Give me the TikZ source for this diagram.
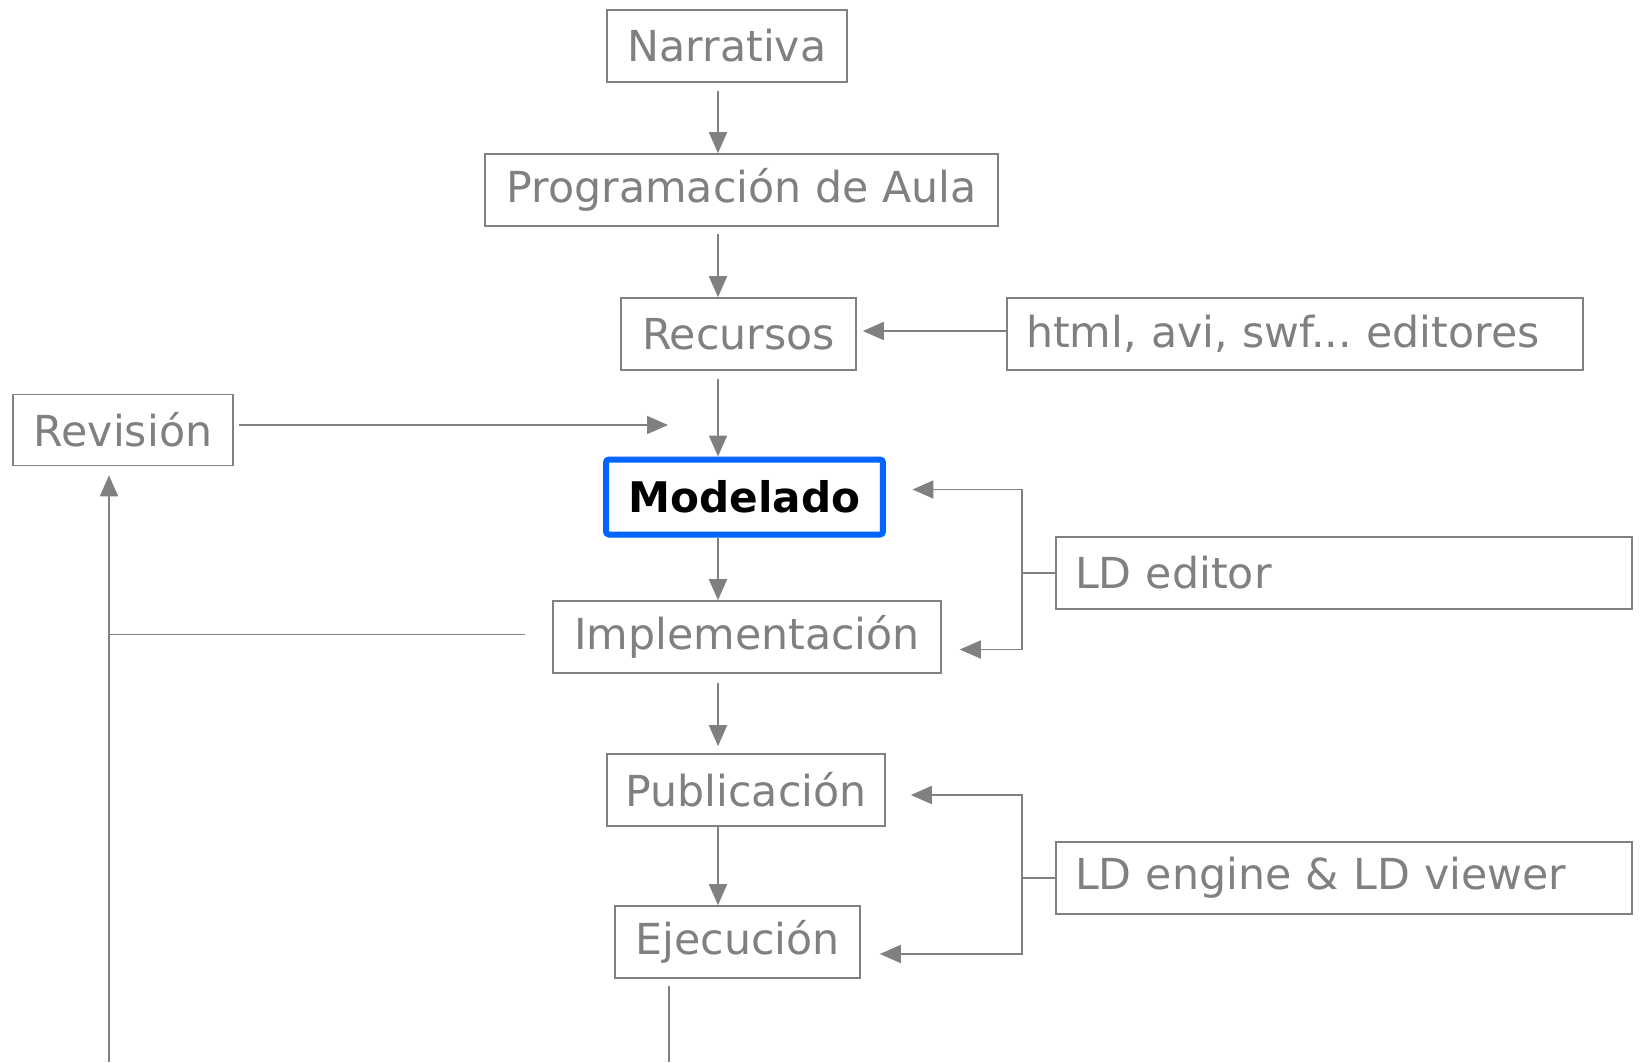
\documentclass[tikz,border=0pt]{standalone}
\usepackage{fontspec}
\setmainfont{DejaVu Sans}
\usetikzlibrary{arrows.meta}
\definecolor{linegray}{RGB}{128,128,128}
\definecolor{modblue}{RGB}{0,102,255}

\begin{document}
\begin{tikzpicture}[x=0.02cm, y=-0.02cm,
  box/.style={draw=linegray, line width=0.95pt, text=linegray, minimum height=1.44cm, inner sep=0pt, font=\fontsize{24.3}{28}\selectfont},
  toolbox/.style={box, minimum width=11.52cm, text width=10.76cm, align=left, inner xsep=0.38cm},
  arr/.style={draw=linegray, line width=1pt, -{Triangle[length=0.42cm,width=0.36cm]}},
  ln/.style={draw=linegray, line width=1pt}]
	\useasboundingbox (0,0) rectangle (1642,1062);

	\node[box, minimum width=4.8cm] (narr) at (727,46) {Narrativa};
	\node[box, minimum width=10.26cm] (prog) at (741.5,190) {Programación de Aula};
	\node[box, minimum width=4.7cm] (rec) at (738.5,334) {Recursos};
	\node[toolbox] (html) at (1295,334) {html, avi, swf...~editores};
	\node[box, minimum width=4.4cm, minimum height=1.42cm] (rev) at (123,430) {Revisión};
	\node[box, draw=modblue, line width=0.12cm, rounded corners=0.06cm, minimum width=5.54cm, minimum height=1.5cm, text=black, font=\fontsize{24}{28}\selectfont\bfseries] (mod) at (744.5,497) {Modelado};
	\node[toolbox] (ldedit) at (1344,573) {LD editor};
	\node[box, minimum width=7.76cm] (impl) at (747,637) {Implementación};
	\node[box, minimum width=5.56cm] (pub) at (746,790) {Publicación};
	\node[toolbox] (ldeng) at (1344,878) {LD engine \& LD viewer};
	\node[box, minimum width=4.9cm] (ejec) at (737.5,942) {Ejecución};

	\coordinate (spine) at (718,0);
	\coordinate (revtip) at (668,425);
	\coordinate (fb) at (109,1062);
	\coordinate (exit) at (669,1062);

	% eje central
	\draw[arr, shorten <=0.16cm] (narr.south -| spine) -- (prog.north -| spine);
	\draw[arr, shorten <=0.14cm] (prog.south -| spine) -- (rec.north -| spine);
	\draw[arr, shorten <=0.16cm] (rec.south -| spine) -- (mod.north -| spine);
	\draw[arr] (mod.south -| spine) -- (impl.north -| spine);
	\draw[arr, shorten <=0.18cm, shorten >=0.14cm] (impl.south -| spine) -- (pub.north -| spine);
	\draw[arr] (pub.south -| spine) -- (ejec.north -| spine);

	\draw[arr, shorten >=0.12cm] ([yshift=0.06cm]html.west) -- ([yshift=0.06cm]rec.east);
	\draw[arr, shorten <=0.1cm] (rev.east |- revtip) -- (revtip);

	% vuelta a la revisión
	\draw[arr, shorten >=0.18cm] (fb) -- (fb |- rev.south);
	\draw[ln, shorten <=0.54cm] ([yshift=0.05cm]impl.west) -- ([yshift=0.05cm]impl.west -| fb);
	\draw[ln, shorten <=0.14cm] (exit |- ejec.south) -- (exit);

	\draw[ln] (ldedit.west) -- ++(-33,0) coordinate (br1);
	\draw[arr, shorten >=0.53cm] (br1) |- ([yshift=0.15cm]mod.east);
	\draw[arr, shorten >=0.36cm] (br1) |- ([yshift=-0.25cm]impl.east);

	\draw[ln] (ldeng.west) -- ++(-33,0) coordinate (br2);
	\draw[arr, shorten >=0.5cm] (br2) |- ([yshift=-0.1cm]pub.east);
	\draw[arr, shorten >=0.38cm] (br2) |- ([yshift=-0.24cm]ejec.east);

\end{tikzpicture}
\end{document}
